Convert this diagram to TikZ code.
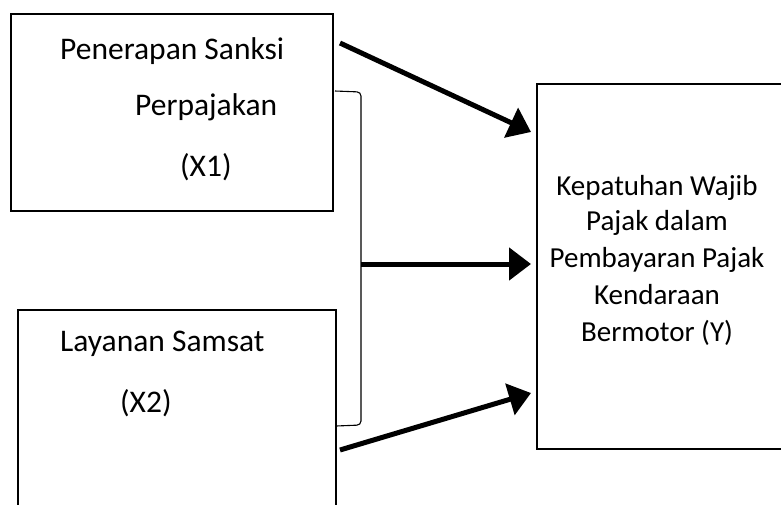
\documentclass[tikz,border=0pt]{standalone}
\usepackage{fontspec}
\setmainfont{Carlito}
\usetikzlibrary{arrows.meta}
\begin{document}
\begin{tikzpicture}[x=1pt,y=-1pt,
  box/.style={draw, line width=2.4pt, inner sep=0pt},
  lbl/.style={anchor=base west, inner sep=0pt, font=\fontsize{31.5}{36}\selectfont},
  clbl/.style={anchor=base, inner sep=0pt, font=\fontsize{29}{34}\selectfont},
  arr/.style={line width=5pt, -{Triangle[length=22pt,width=32pt]}},
  brk/.style={line width=1.1pt, rounded corners=4pt}]
\useasboundingbox (0,0) rectangle (781,504);
\node[box, minimum width=322pt, minimum height=197pt] (b1) at (172,112.5) {};
\node[box, minimum width=318pt, minimum height=214pt] (b2) at (177,417) {};
\node[box, minimum width=256pt, minimum height=365pt] (by) at (665,266.5) {};
\node[lbl] (t1a) at (60,59) {Penerapan Sanksi};
\node[lbl] (t1b) at (135,115) {Perpajakan};
\node[lbl] (t1c) at (180,176) {(X1)};
\node[lbl] (t2a) at (60,351) {Layanan Samsat};
\node[lbl] (t2b) at (120,412) {(X2)};
\node[clbl] (y1) at (657,195) {Kepatuhan Wajib};
\node[clbl] (y2) at (657,230) {Pajak dalam};
\node[clbl] (y3) at (657,267) {Pembayaran Pajak};
\node[clbl] (y4) at (657,304) {Kendaraan};
\node[clbl] (y5) at (657,341) {Bermotor (Y)};
\coordinate (a1s) at (340,43);
\coordinate (a1e) at (531,132);
\coordinate (a2s) at (361,264);
\coordinate (a2e) at (531,264);
\coordinate (a3s) at (340,450);
\coordinate (a3e) at (531,393);
\coordinate (k1) at (335,91);
\coordinate (k2) at (361,92);
\coordinate (k3) at (361,425);
\coordinate (k4) at (336,426);
\draw[brk] (k1) -- (k2) -- (k3) -- (k4);
\draw[arr] (a1s) -- (a1e);
\draw[arr] (a2s) -- (a2e);
\draw[arr] (a3s) -- (a3e);
\end{tikzpicture}
\end{document}
